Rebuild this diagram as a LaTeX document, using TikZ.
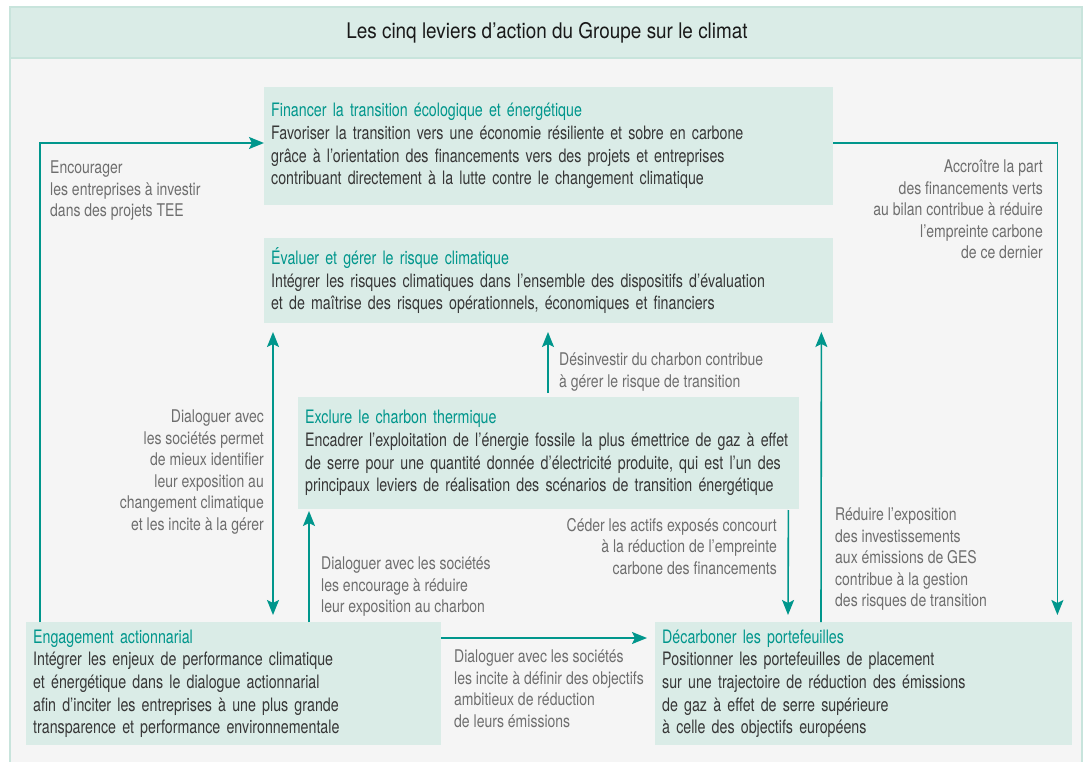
\documentclass[tikz,border=0pt]{standalone}
\usepackage{fontspec}
\setmainfont[FakeStretch=0.8]{TeX Gyre Heros}
\newfontfamily\boxfont[FakeStretch=0.77]{TeX Gyre Heros}
\newfontfamily\titlefont[FakeStretch=0.88]{TeX Gyre Heros}
\usepackage{tikz}
\usetikzlibrary{arrows.meta,calc}

\definecolor{tealc}{RGB}{0,150,140}
\definecolor{boxfill}{RGB}{218,236,231}
\definecolor{bggray}{RGB}{245,245,245}
\definecolor{framec}{RGB}{200,228,220}
\definecolor{bodytext}{RGB}{55,55,55}
\definecolor{labeltext}{RGB}{110,110,110}

\begin{document}
\begin{tikzpicture}[x=1pt,y=-1pt,
    >={Stealth[length=15pt,width=12pt,inset=3pt]},
    levier/.style={fill=boxfill, anchor=north west, inner xsep=7pt, inner ysep=0pt,
      align=left, text=bodytext, font=\boxfont\fontsize{18.5}{22.7}\selectfont},
    lien/.style={draw=tealc, line width=1.6pt},
    note/.style={inner sep=0pt, text=labeltext, font=\fontsize{17.5}{21.5}\selectfont}]
    \useasboundingbox (0,0) rectangle (1088,762);

    % Frame and title band
    \fill[bggray] (10,58) rectangle (1082,762);
    \fill[boxfill] (10,7) rectangle (1082,58);
    \draw[framec, line width=2pt] (10,762) -- (10,7) -- (1082,7) -- (1082,762);
    \draw[framec, line width=2pt] (10,58) -- (1082,58);
    \node[font=\titlefont\fontsize{21.5}{24}\selectfont, text={rgb,255:red,25;green,25;blue,25}] (titre) at (547,33)
      {Les cinq leviers d’action du Groupe sur le climat};

    % The five levers
    \node[levier, text width=555pt, minimum height=118pt] (fin) at (264,87)
      {{\color{tealc}Financer la transition écologique et énergétique}\\
       Favoriser la transition vers une économie résiliente et sobre en carbone\\
       grâce à l’orientation des financements vers des projets et entreprises\\
       contribuant directement à la lutte contre le changement climatique};
    \node[levier, text width=555pt, minimum height=85pt] (eval) at (264,238)
      {{\color{tealc}Évaluer et gérer le risque climatique}\\
       Intégrer les risques climatiques dans l’ensemble des dispositifs d’évaluation\\
       et de maîtrise des risques opérationnels, économiques et financiers};
    \node[levier, text width=487pt, minimum height=112pt] (exc) at (298,397)
      {{\color{tealc}Exclure le charbon thermique}\\
       Encadrer l’exploitation de l’énergie fossile la plus émettrice de gaz à effet\\
       de serre pour une quantité donnée d’électricité produite, qui est l’un des\\
       principaux leviers de réalisation des scénarios de transition énergétique};
    \node[levier, text width=401pt, minimum height=123pt] (eng) at (26,622)
      {{\color{tealc}Engagement actionnarial}\\
       Intégrer les enjeux de performance climatique\\
       et énergétique dans le dialogue actionnarial\\
       afin d’inciter les entreprises à une plus grande\\
       transparence et performance environnementale};
    \node[levier, text width=403pt, minimum height=123pt] (dec) at (655,622)
      {{\color{tealc}Décarboner les portefeuilles}\\
       Positionner les portefeuilles de placement\\
       sur une trajectoire de réduction des émissions\\
       de gaz à effet de serre supérieure\\
       à celle des objectifs européens};

    % Outer loops
    \draw[lien, ->] ($(eng.north west)+(14,0)$) |- ($(fin.north west)+(0,56)$);
    \draw[lien, ->, shorten >=7pt] ($(fin.north east)+(0,56)$) -| ($(dec.north east)+(-15,0)$);

    % Links between the levers
    \draw[lien, <->, shorten <=11pt, shorten >=7pt] ($(eval.north west)+(9,83)$) -- ($(eng.north west)+(247,0)$);
    \draw[lien, ->, shorten >=4pt] ($(eng.north west)+(283,0)$) -- ($(exc.north west)+(11,110)$);
    \draw[lien, ->, shorten <=4pt, shorten >=11pt] ($(exc.north west)+(250,0)$) -- ($(eval.north west)+(284,83)$);
    \draw[lien, ->, shorten <=3pt, shorten >=7pt] ($(exc.north east)+(-11,110)$) -- ($(dec.north west)+(133,0)$);
    \draw[lien, ->, shorten >=11pt] ($(dec.north west)+(166,0)$) -- ($(eval.north east)+(-12,83)$);
    \draw[lien, ->, shorten >=8pt] ($(eng.north east)+(0,16)$) -- ($(dec.north west)+(0,16)$);

    % Labels
    \node[note, anchor=north west, align=left] (encourager) at (50,161)
      {Encourager\\ les entreprises à investir\\ dans des projets TEE};
    \node[note, anchor=north east, align=right] (accroitre) at (1043,160)
      {Accroître la part\\ des financements verts\\ au bilan contribue à réduire\\ l’empreinte carbone\\ de ce dernier};
    \node[note, anchor=north east, align=right] (dialoguerA) at (264,410)
      {Dialoguer avec\\ les sociétés permet\\ de mieux identifier\\ leur exposition au\\ changement climatique\\ et les incite à la gérer};
    \node[note, anchor=north west, align=left] (desinvestir) at (559,353)
      {Désinvestir du charbon contribue\\ à gérer le risque de transition};
    \node[note, anchor=north west, align=left] (dialoguerB) at (321,557)
      {Dialoguer avec les sociétés\\ les encourage à réduire\\ leur exposition au charbon};
    \node[note, anchor=north east, align=right] (ceder) at (777,518)
      {Céder les actifs exposés concourt\\ à la réduction de l’empreinte\\ carbone des financements};
    \node[note, anchor=north west, align=left] (reduire) at (835,508)
      {Réduire l’exposition\\ des investissements\\ aux émissions de GES\\ contribue à la gestion\\ des risques de transition};
    \node[note, anchor=north west, align=left] (dialoguerC) at (454,650)
      {Dialoguer avec les sociétés\\ les incite à définir des objectifs\\ ambitieux de réduction\\ de leurs émissions};

\end{tikzpicture}
\end{document}
